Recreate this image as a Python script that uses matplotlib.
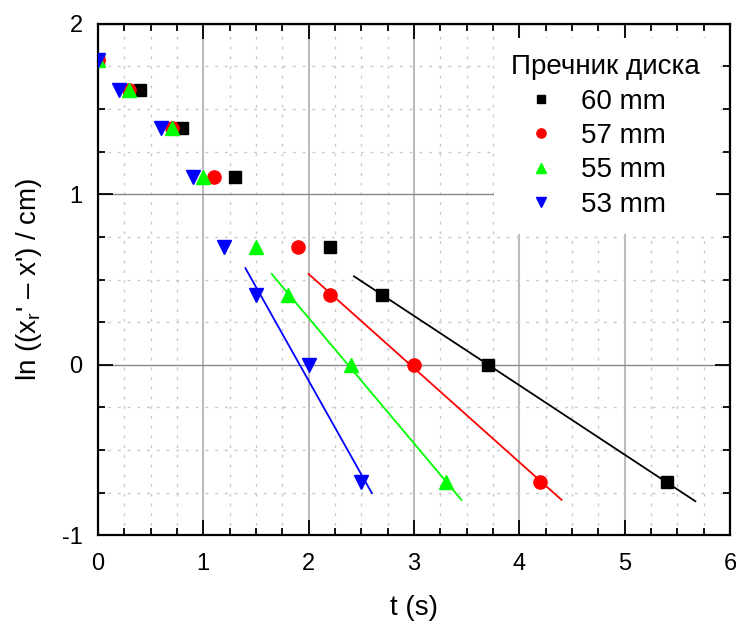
import numpy as np
import matplotlib.pyplot as plt
from matplotlib.ticker import MultipleLocator

plt.rcParams['font.family'] = ['Liberation Sans', 'DejaVu Sans']
plt.rcParams['mathtext.fontset'] = 'custom'
plt.rcParams['mathtext.rm'] = 'Liberation Sans'
plt.rcParams['mathtext.it'] = 'Liberation Sans'
plt.rcParams['axes.unicode_minus'] = False

# ln of the remaining distance, same levels for every disk
y_levels = [1.79, 1.61, 1.39, 1.10, 0.69, 0.41, 0.0, -0.69]

t_60 = [0.0, 0.4, 0.8, 1.3, 2.2, 2.7, 3.7, 5.4]
t_57 = [0.0, 0.3, 0.7, 1.1, 1.9, 2.2, 3.0, 4.2]
t_55 = [0.0, 0.3, 0.7, 1.0, 1.5, 1.8, 2.4, 3.3]
t_53 = [0.0, 0.2, 0.6, 0.9, 1.2, 1.5, 2.0, 2.5]

labels = ['60 mm', '57 mm', '55 mm', '53 mm']
colors = ['black', 'red', '#00ff00', 'blue']
markers = ['s', 'o', '^', 'v']
msizes = [8.5, 9.5, 10, 10]

fig = plt.figure(figsize=(7.36, 6.26), dpi=100)
ax = fig.add_axes([0.133, 0.145, 0.859, 0.817])

series = [t_60, t_57, t_55, t_53]
for t, lab, c, m, ms in zip(series, labels, colors, markers, msizes):
    ax.plot(t, y_levels, linestyle='none', marker=m, color=c, markersize=ms,
            label=lab, zorder=4)
    # linear fit on the last three points
    tf = np.array(t[-3:])
    yf = np.array(y_levels[-3:])
    k, b = np.polyfit(tf, yf, 1)
    ext = 0.1 * (tf[-1] - tf[0])
    xs = np.array([tf[0] - ext, tf[-1] + ext])
    ax.plot(xs, k * xs + b, color=c, lw=1.3, zorder=3)

ax.set_xlim(0, 6)
ax.set_ylim(-1, 2)
ax.xaxis.set_major_locator(MultipleLocator(1))
ax.xaxis.set_minor_locator(MultipleLocator(0.25))
ax.yaxis.set_major_locator(MultipleLocator(1))
ax.yaxis.set_minor_locator(MultipleLocator(0.25))

ax.tick_params(which='both', direction='in', top=True, right=True,
               labelsize=17, width=1.3)
ax.tick_params(which='major', length=11)
ax.tick_params(which='minor', length=5)
ax.tick_params(axis='x', which='major', pad=13)
ax.tick_params(axis='y', which='major', pad=11)
for s in ax.spines.values():
    s.set_linewidth(1.6)

ax.xaxis.grid(True, which='major', color='#bbbbbb', lw=1.5)
ax.yaxis.grid(True, which='major', color='#888888', lw=1.0)
ax.grid(True, which='minor', color='#c8c8c8', lw=1.0, linestyle=(0, (2, 5)))
ax.set_axisbelow(True)

ax.set_xlabel('t (s)', fontsize=20, labelpad=14)
ax.set_ylabel("ln ((x$_\\mathrm{r}$' – x') / cm)", fontsize=20, labelpad=13)

leg = ax.legend(title='Пречник диска', loc='upper right', fontsize=20,
                title_fontsize=20, markerscale=0.7, frameon=True,
                edgecolor='none', facecolor='white', framealpha=1,
                borderaxespad=0.5, labelspacing=0.3, handletextpad=0.33,
                handlelength=2.2, borderpad=0.6, alignment='left')
leg.set_zorder(5)

fig.savefig('out.png', dpi=100)
